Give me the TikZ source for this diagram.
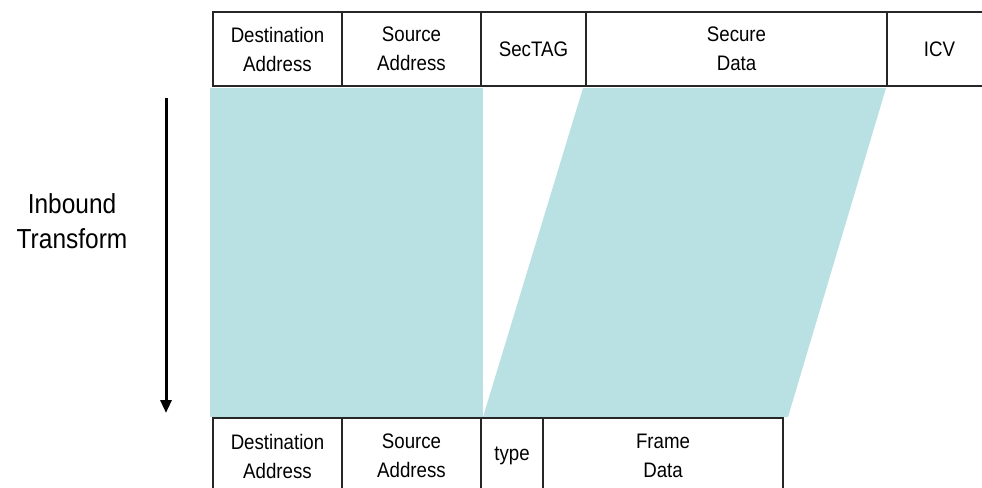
\documentclass[tikz,border=0pt]{standalone}
\usepackage{fontspec}
\setmainfont{Liberation Sans}
\newfontfamily\etroit[FakeStretch=0.89]{Liberation Sans}
\usetikzlibrary{positioning,arrows.meta}
\definecolor{bleuclair}{RGB}{185,224,227}
\tikzset{
  champ/.style={draw=black!85, line width=1.3pt, minimum height=74pt, inner sep=0pt,
    outer sep=0pt, align=center, font=\etroit\fontsize{21}{29}\selectfont, anchor=west},
  champbas/.style={champ, minimum height=76pt}
}
\begin{document}
\begin{tikzpicture}[x=1pt, y=-1pt, node distance=0pt]
  \useasboundingbox (0,0) rectangle (982,487);
  \clip (0,0) rectangle (982,487);

  % zones colorees
  \fill[bleuclair] (210,88) rectangle (483,417);
  \fill[bleuclair] (583,88) -- (886,88) -- (788,417) -- (483,417) -- cycle;

  % trame protegee (en haut)
  \node[champ, minimum width=129pt] (dst) at (213,49) {Destination\\Address};
  \node[champ, minimum width=139pt, right=of dst] (src) {Source\\Address};
  \node[champ, minimum width=105pt, right=of src] (sectag) {SecTAG};
  \node[champ, minimum width=301pt, right=of sectag] (secdata) {Secure\\Data};
  \node[champ, minimum width=105pt, right=of secdata] (icv) {ICV};

  % trame d'origine (en bas)
  \node[champbas, minimum width=129pt] (dstb) at (213,456) {Destination\\Address};
  \node[champbas, minimum width=139pt, right=of dstb] (srcb) {Source\\Address};
  \node[champbas, minimum width=62pt, right=of srcb] (type) {type};
  \node[champbas, minimum width=240pt, right=of type] (framedata) {Frame\\Data};

  % fleche et legende
  \coordinate (haut) at (166,98);
  \coordinate (bas) at (166,413);
  \draw[line width=3pt, -{Triangle[width=11pt,length=13pt]}] (haut) -- (bas);
  \node[align=center, font=\etroit\fontsize{27.5}{35}\selectfont] (inbound) at (72,221) {Inbound\\Transform};
\end{tikzpicture}
\end{document}
